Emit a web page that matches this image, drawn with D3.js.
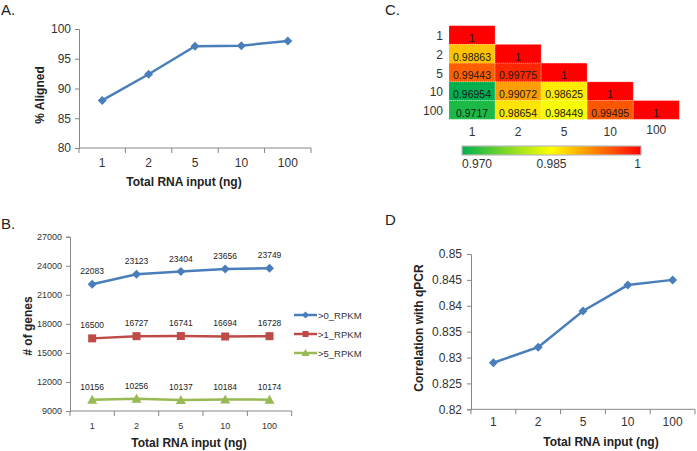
<!DOCTYPE html>
<html><head><meta charset="utf-8">
<script src="https://cdn.jsdelivr.net/npm/d3@7"></script>
<style>
html,body{margin:0;padding:0;background:#fff;}
svg{display:block;font-family:"Liberation Sans",Arial,sans-serif;}
</style></head>
<body>
<svg id="chart" width="697" height="451"></svg>
<script>
// ---------- data ----------
const categories = ["1","2","5","10","100"];
const alignedPct = [88.0, 92.4, 97.1, 97.2, 98.0];
const alignedTicks = [80, 85, 90, 95, 100];

const seriesNames = [">0_RPKM", ">1_RPKM", ">5_RPKM"];
const genesGt0 = [22083, 23123, 23404, 23656, 23749];
const genesGt1 = [16500, 16727, 16741, 16694, 16728];
const genesGt5 = [10156, 10256, 10137, 10184, 10174];
const genesTicks = [9000, 12000, 15000, 18000, 21000, 24000, 27000];

const qpcrCorr = [0.829, 0.832, 0.839, 0.844, 0.845];
const qpcrTicks = [0.82, 0.825, 0.83, 0.835, 0.84, 0.845, 0.85];

// lower-triangle correlation matrix (row i, columns 0..i)
const corrRow1 = [1];
const corrRow2 = [0.98863, 1];
const corrRow5 = [0.99443, 0.99775, 1];
const corrRow10 = [0.96954, 0.99072, 0.98625, 1];
const corrRow100 = [0.9717, 0.98654, 0.98449, 0.99495, 1];
const corrScaleLabels = ["0.970", "0.985", "1"];

// ---------- setup ----------
const svg = d3.select("#chart");
const axisGray = "#868686";
const blue = "#4a7ebb", red = "#be4b48", green = "#98b954";
const font = "'Liberation Sans', Arial, sans-serif";

function styleAxis(g){
  g.selectAll("path.domain").attr("stroke", axisGray).attr("stroke-width",1);
  g.selectAll(".tick line").attr("stroke", axisGray);
  g.selectAll("text").attr("fill","#333").attr("font-family",font);
}

function panelLabel(txt, x, y){
  svg.append("text").attr("x",x).attr("y",y).attr("font-size",15)
    .attr("fill","#222").attr("font-family",font).text(txt);
}

function bandAxisX(xScale, y, fontSize, labelDy){
  const g = svg.append("g").attr("transform",`translate(0,${y})`);
  const [r0, r1] = xScale.range();
  g.append("line").attr("x1",r0).attr("x2",r1).attr("y1",0).attr("y2",0)
    .attr("stroke",axisGray);
  const bounds = [r0, ...categories.map(c => xScale(c) + xScale.bandwidth())];
  g.selectAll("line.tk").data(bounds).join("line").attr("class","tk")
    .attr("x1",d=>d).attr("x2",d=>d).attr("y1",0).attr("y2",5).attr("stroke",axisGray);
  g.selectAll("text").data(categories).join("text")
    .attr("x",d=>xScale(d)+xScale.bandwidth()/2).attr("y",labelDy)
    .attr("text-anchor","middle").attr("font-size",fontSize).attr("fill","#333")
    .attr("font-family",font).text(d=>d);
}

function axisTitleX(txt, x, y){
  svg.append("text").attr("x",x).attr("y",y).attr("text-anchor","middle")
    .attr("font-size",12).attr("font-weight","bold").attr("fill","#222")
    .attr("font-family",font).text(txt);
}
function axisTitleY(txt, x, y){
  svg.append("text").attr("transform",`translate(${x},${y}) rotate(-90)`)
    .attr("text-anchor","middle").attr("font-size",12).attr("font-weight","bold")
    .attr("fill","#222").attr("font-family",font).text(txt);
}

function diamondPath(cx, cy, r){
  return `M${cx},${cy-r}L${cx+r},${cy}L${cx},${cy+r}L${cx-r},${cy}Z`;
}

// ---------- Panel A ----------
panelLabel("A.", 1, 15);
{
  const x = d3.scaleBand().domain(categories).range([79, 311]);
  const y = d3.scaleLinear().domain([80, 100]).range([148, 29]);
  const ya = svg.append("g").attr("transform","translate(79,0)")
    .call(d3.axisLeft(y).tickValues(alignedTicks).tickSize(4).tickPadding(4));
  styleAxis(ya); ya.selectAll("text").attr("font-size",12);
  bandAxisX(x, 148, 12, 19);
  const cx = d => x(d)+x.bandwidth()/2;
  const line = d3.line().x((d,i)=>cx(categories[i])).y(d=>y(d));
  svg.append("path").datum(alignedPct).attr("d",line).attr("fill","none")
    .attr("stroke",blue).attr("stroke-width",2.5);
  svg.selectAll("path.mA").data(alignedPct).join("path").attr("class","mA")
    .attr("d",(d,i)=>diamondPath(cx(categories[i]), y(d), 4.5)).attr("fill",blue);
  axisTitleX("Total RNA input (ng)", 184, 186);
  axisTitleY("% Aligned", 44, 95);
}

// ---------- Panel B ----------
panelLabel("B.", 1, 229);
{
  const x = d3.scaleBand().domain(categories).range([70, 291.7]);
  const y = d3.scaleLinear().domain([9000, 27000]).range([411, 236.7]);
  const ya = svg.append("g").attr("transform","translate(70,0)")
    .call(d3.axisLeft(y).tickValues(genesTicks).tickSize(4).tickPadding(4).tickFormat(d3.format("d")));
  styleAxis(ya); ya.selectAll("text").attr("font-size",9);
  bandAxisX(x, 411, 9, 18);
  const cx = d => x(d)+x.bandwidth()/2;
  const series = [
    {name: seriesNames[0], vals: genesGt0, color: blue, shape: "diamond"},
    {name: seriesNames[1], vals: genesGt1, color: red, shape: "square"},
    {name: seriesNames[2], vals: genesGt5, color: green, shape: "triangle"}
  ];
  const line = d3.line().x((d,i)=>cx(categories[i])).y(d=>y(d));
  function marker(sel, shape, px, py, color){
    if(shape==="diamond") sel.append("path").attr("d",diamondPath(px,py,4.5)).attr("fill",color);
    else if(shape==="square") sel.append("rect").attr("x",px-4).attr("y",py-4).attr("width",8).attr("height",8).attr("fill",color);
    else sel.append("path").attr("d",`M${px},${py-5}L${px+5},${py+4}L${px-5},${py+4}Z`).attr("fill",color);
  }
  series.forEach(s=>{
    svg.append("path").datum(s.vals).attr("d",line).attr("fill","none")
      .attr("stroke",s.color).attr("stroke-width",2.5);
    const g = svg.append("g");
    s.vals.forEach((v,i)=>marker(g, s.shape, cx(categories[i]), y(v), s.color));
    svg.append("g").selectAll("text").data(s.vals).join("text")
      .attr("x",(d,i)=>cx(categories[i])).attr("y",d=>y(d)-10)
      .attr("text-anchor","middle").attr("font-size",8.5).attr("fill","#222")
      .attr("font-family",font).text(d=>d);
  });
  // legend
  const ly = [315, 334, 353];
  series.forEach((s,i)=>{
    const g = svg.append("g");
    g.append("line").attr("x1",294).attr("x2",317).attr("y1",ly[i]).attr("y2",ly[i])
      .attr("stroke",s.color).attr("stroke-width",2.5);
    const sz = s.shape==="diamond"?0.8:0.75;
    if(s.shape==="diamond") g.append("path").attr("d",diamondPath(305.5,ly[i],3.5)).attr("fill",s.color);
    else if(s.shape==="square") g.append("rect").attr("x",302.5).attr("y",ly[i]-3).attr("width",6).attr("height",6).attr("fill",s.color);
    else g.append("path").attr("d",`M305.5,${ly[i]-4}L309.5,${ly[i]+3}L301.5,${ly[i]+3}Z`).attr("fill",s.color);
    g.append("text").attr("x",318).attr("y",ly[i]+3.5).attr("font-size",9.5)
      .attr("fill","#333").attr("font-family",font).text(s.name);
  });
  axisTitleX("Total RNA input (ng)", 189, 447);
  axisTitleY("# of genes", 32, 326);
}

// ---------- Panel C ----------
panelLabel("C.", 385, 15);
{
  const rows = [corrRow1, corrRow2, corrRow5, corrRow10, corrRow100];
  const x = d3.scaleBand().domain(categories).range([449, 679.3]);
  const y = d3.scaleBand().domain(categories).range([25.7, 119.3]);
  const color = d3.scaleLinear().domain([0.970, 0.985, 1])
    .range(["#00b050", "#ffff00", "#ff0000"]).clamp(true);
  const cells = [];
  rows.forEach((r,i)=>r.forEach((v,j)=>cells.push({row:categories[i], col:categories[j], v})));
  const g = svg.append("g");
  g.selectAll("rect").data(cells).join("rect")
    .attr("x",d=>x(d.col)).attr("y",d=>y(d.row))
    .attr("width",x.bandwidth()).attr("height",y.bandwidth())
    .attr("fill",d=>color(d.v)).attr("stroke","rgba(255,255,255,0.45)")
    .attr("stroke-width",0.8).attr("stroke-dasharray","1,1");
  g.selectAll("text").data(cells).join("text")
    .attr("x",d=>x(d.col)+x.bandwidth()/2).attr("y",d=>y(d.row)+y.bandwidth()-2.5)
    .attr("text-anchor","middle").attr("font-size",10.5).attr("fill","#1a1a1a")
    .attr("font-family",font).text(d=>d.v);
  // row labels
  svg.append("g").selectAll("text").data(categories).join("text")
    .attr("x",443).attr("y",d=>y(d)+y.bandwidth()/2+5)
    .attr("text-anchor","end").attr("font-size",12).attr("fill","#333")
    .attr("font-family",font).text(d=>d);
  // column labels
  svg.append("g").selectAll("text").data(categories).join("text")
    .attr("x",d=>x(d)+x.bandwidth()/2).attr("y",(d,i)=> i===4 ? 134 : 136)
    .attr("text-anchor","middle").attr("font-size",12).attr("fill","#333")
    .attr("font-family",font).text(d=>d);
  // color bar
  const defs = svg.append("defs");
  const grad = defs.append("linearGradient").attr("id","cbar");
  const stops = [0.970, 0.9775, 0.985, 0.9925, 1];
  const bx = d3.scaleLinear().domain([0.970, 1]).range([462, 641]);
  stops.forEach(s=>grad.append("stop").attr("offset",((bx(s)-462)/179*100)+"%").attr("stop-color",color(s)));
  svg.append("rect").attr("x",bx(0.970)).attr("y",146).attr("width",bx(1)-bx(0.970)).attr("height",9)
    .attr("fill","url(#cbar)").attr("stroke","#bbbbbb").attr("stroke-width",1.2);
  const lblAnchor = ["start","middle","end"];
  const lblX = [462, bx(0.985), 641];
  corrScaleLabels.forEach((t,i)=>{
    svg.append("text").attr("x",lblX[i]).attr("y",168).attr("text-anchor",lblAnchor[i])
      .attr("font-size",12).attr("fill","#333").attr("font-family",font).text(t);
  });
}

// ---------- Panel D ----------
panelLabel("D", 385, 225);
{
  const x = d3.scaleBand().domain(categories).range([471, 695]);
  const y = d3.scaleLinear().domain([0.82, 0.85]).range([409.3, 254]);
  const ya = svg.append("g").attr("transform","translate(471,0)")
    .call(d3.axisLeft(y).tickValues(qpcrTicks).tickSize(4).tickPadding(5).tickFormat(d=>String(+d.toFixed(3))));
  styleAxis(ya); ya.selectAll("text").attr("font-size",12);
  bandAxisX(x, 409.3, 12, 17);
  const cx = d => x(d)+x.bandwidth()/2;
  const line = d3.line().x((d,i)=>cx(categories[i])).y(d=>y(d));
  svg.append("path").datum(qpcrCorr).attr("d",line).attr("fill","none")
    .attr("stroke",blue).attr("stroke-width",2.5);
  svg.selectAll("path.mD").data(qpcrCorr).join("path").attr("class","mD")
    .attr("d",(d,i)=>diamondPath(cx(categories[i]), y(d), 4.5)).attr("fill",blue);
  axisTitleX("Total RNA input (ng)", 601, 446);
  axisTitleY("Correlation with qPCR", 423, 328);
}
</script>
</body></html>
